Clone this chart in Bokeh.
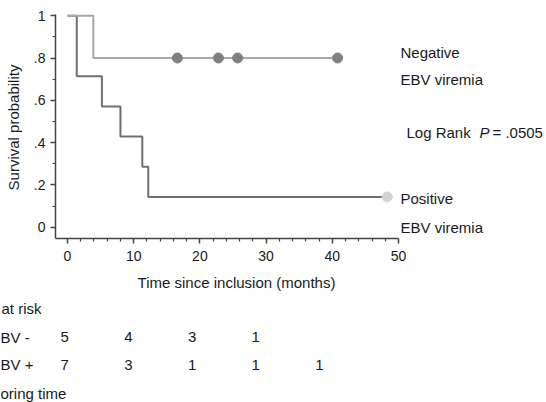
import math
from bokeh.plotting import figure
from bokeh.models import FixedTicker, Range1d
from bokeh.core.properties import value
from bokeh.embed import file_html
from bokeh.resources import INLINE

# ---------------- data ----------------
neg_times = [0, 3.9, 40.8]
neg_surv = [1.0, 0.8, 0.8]
neg_censor_t = [16.6, 22.8, 25.7, 40.8]
neg_censor_s = [0.8, 0.8, 0.8, 0.8]

pos_times = [0, 1.4, 5.2, 8.0, 11.3, 12.2, 48.3]
pos_surv = [1.0, 0.714, 0.571, 0.429, 0.286, 0.143, 0.143]
pos_censor_t = [48.3]
pos_censor_s = [0.143]

risk_times = [0, 10, 20, 30, 40]
risk_neg = [5, 4, 3, 1]
risk_pos = [7, 3, 1, 1, 1]
risk_row_labels = ["BV -", "BV +"]

x_ticks = [0, 10, 20, 30, 40, 50]
x_minor = [t for t in range(0, 51, 2) if t % 10 != 0]
y_ticks = [0, 0.2, 0.4, 0.6, 0.8, 1.0]
y_minor = [0.1, 0.3, 0.5, 0.7, 0.9]
y_tick_labels = ["0", ".2", ".4", ".6", ".8", "1"]

# ---------------- layout helpers (pixel -> data) ----------------
W, H = 546, 402
X0, SX = 67.0, 6.62
Y0, SY = 226.7, 211.5


def dx(px):
    return (px - X0) / SX


def dy(py):
    return (Y0 - py) / SY


FONT = "Liberation Sans"
TXT = "#1a1a1a"
AX = "#444444"

p = figure(width=W, height=H, frame_width=W, frame_height=H,
           x_range=Range1d(dx(0), dx(W)), y_range=Range1d(dy(H), dy(0)),
           min_border=0, output_backend="svg", toolbar_location=None)
p.styles = {"position": "absolute", "left": "0px", "top": "0px"}
p.outline_line_color = None
p.xgrid.visible = False
p.ygrid.visible = False
p.background_fill_color = "white"
p.border_fill_color = "white"

# axes (fixed inside the frame)
for ax in (p.xaxis[0], p.yaxis[0]):
    ax.axis_line_color = AX
    ax.axis_line_width = 1.5
    ax.major_tick_line_color = AX
    ax.minor_tick_line_color = AX
    ax.major_tick_line_width = 1.5
    ax.minor_tick_line_width = 1.2
    ax.major_tick_in = 0
    ax.major_tick_out = 5
    ax.minor_tick_in = 0
    ax.minor_tick_out = 3
    ax.major_label_text_font = FONT
    ax.major_label_text_font_size = "14px"
    ax.major_label_text_color = TXT

p.xaxis.ticker = FixedTicker(ticks=x_ticks, minor_ticks=x_minor)
p.xaxis.fixed_location = dy(238.3)
p.xaxis.bounds = (dx(55), dx(398))
p.xaxis.major_label_standoff = 7

p.yaxis.ticker = FixedTicker(ticks=y_ticks, minor_ticks=y_minor)
p.yaxis.major_label_overrides = {t: s for t, s in zip(y_ticks, y_tick_labels)}
p.yaxis.fixed_location = dx(55)
p.yaxis.bounds = (dy(238.3), dy(14.3))
p.yaxis.major_label_standoff = 5

# curves
p.step(pos_times, pos_surv, mode="after", line_color="#707070", line_width=2)
p.step(neg_times, neg_surv, mode="after", line_color="#a8a8a8", line_width=2)
p.scatter(neg_censor_t, neg_censor_s, size=10, fill_color="#808080",
          line_color="#808080")
p.scatter(pos_censor_t, pos_censor_s, size=10, fill_color="#d4d4d4",
          line_color="#d4d4d4")


def lab(xs, ys, texts, style="normal", size="15px", align="left", angle=0.0):
    p.text(x=xs, y=ys, text=texts, text_font=value(FONT), text_font_size=size,
           text_font_style=style, text_color=TXT, text_baseline="middle",
           text_align=align, angle=angle)


# axis titles
lab([dx(13)], [dy(127)], ["Survival probability"], align="center", angle=math.pi / 2)
lab([dx(236)], [dy(281.7)], ["Time since inclusion (months)"], align="center")

# right-hand annotations
lab([dx(400), dx(400), dx(400), dx(400)], [dy(52), dy(79), dy(198), dy(227)],
    ["Negative", "EBV viremia", "Positive", "EBV viremia"])
lab([dx(406)], [dy(132)], ["Log Rank"])
lab([dx(479)], [dy(132)], ["P"], style="italic")
lab([dx(492)], [dy(132)], ["= .0505"])

# number-at-risk table
lab([dx(1)], [dy(308)], ["at risk"])
lab([dx(0), dx(0)], [dy(336.7), dy(364.3)], risk_row_labels)
lab([dx(0)], [dy(392.5)], ["oring time"])


def col_px(t):
    return 60 + t * 6.37


lab([dx(col_px(t)) for t in risk_times[:len(risk_neg)]],
    [dy(336.7)] * len(risk_neg), [str(n) for n in risk_neg])
lab([dx(col_px(t)) for t in risk_times[:len(risk_pos)]],
    [dy(364.3)] * len(risk_pos), [str(n) for n in risk_pos])

open("out.html", "w").write(file_html(p, INLINE))
